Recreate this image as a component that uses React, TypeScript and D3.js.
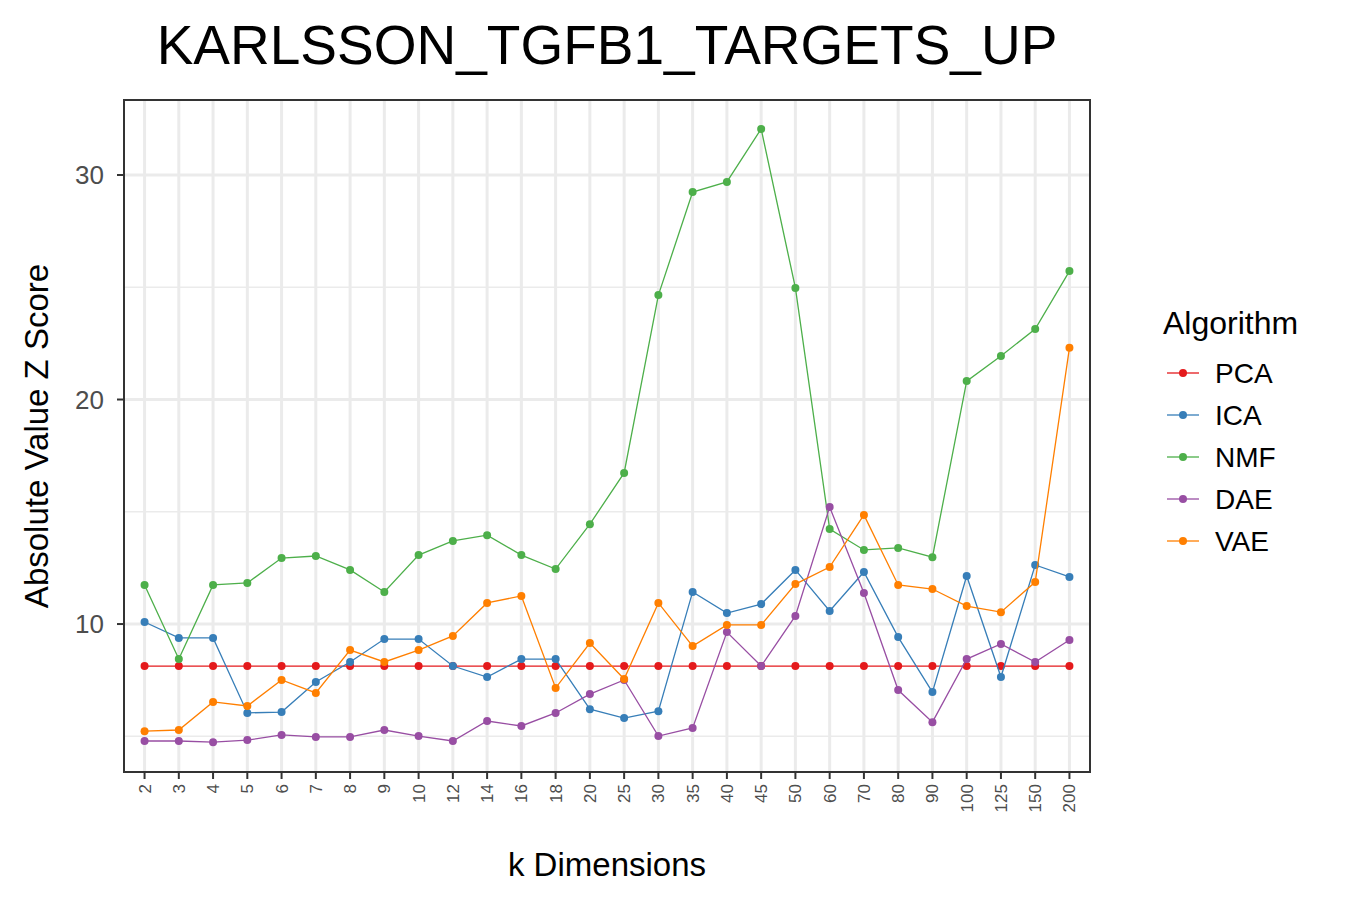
import React from 'react';
import * as d3 from 'd3';

const kDims = ['2','3','4','5','6','7','8','9','10','12','14','16','18','20','25','30','35','40','45','50','60','70','80','90','100','125','150','200'];
const pca = kDims.map(() => 8.13);
const ica = [10.09,9.38,9.38,6.04,6.08,7.42,8.31,9.33,9.33,8.13,7.64,8.44,8.44,6.21,5.81,6.12,11.43,10.49,10.89,12.41,10.58,12.32,9.42,6.97,12.14,7.64,12.63,12.1];
const nmf = [11.74,8.44,11.74,11.83,12.94,13.03,12.41,11.43,13.07,13.7,13.96,13.07,12.45,14.45,16.73,24.65,29.24,29.69,32.05,24.97,14.23,13.3,13.39,12.98,20.82,21.94,23.14,25.72];
const dae = [4.79,4.79,4.74,4.83,5.06,4.97,4.97,5.28,5.01,4.79,5.68,5.46,6.04,6.88,7.51,5.01,5.37,9.64,8.13,10.36,15.21,11.38,7.06,5.63,8.44,9.11,8.31,9.29];
const vae = [5.23,5.28,6.53,6.35,7.51,6.93,8.84,8.31,8.84,9.47,10.94,11.25,7.15,9.15,7.55,10.94,9.02,9.96,9.96,11.78,12.54,14.86,11.74,11.56,10.8,10.53,11.87,22.3];
const algorithms = ['PCA','ICA','NMF','DAE','VAE'];
const colors = ['#e41a1c','#377eb8','#4daf4a','#984ea3','#ff7f00'];
const seriesValues = [pca, ica, nmf, dae, vae];
const majorTicks = [10, 20, 30];
const minorTicks = [5, 15, 25];

export default function App() {
  const left = 124, right = 1090, top = 100, bottom = 772;
  const x = d3.scalePoint<string>().domain(kDims).range([left, right]).padding(0.6);
  const y = d3.scaleLinear().domain([3.41, 33.34]).range([bottom, top]);
  const line = d3.line<number>().x((d, i) => x(kDims[i])!).y(d => y(d));
  const font = 'Arial, "Liberation Sans", sans-serif';

  return (
    <svg width={1350} height={900} style={{ position: 'absolute', left: 0, top: 0 }} fontFamily={font}>
      <rect width={1350} height={900} fill="white" />
      {minorTicks.map(t => <line key={'mi' + t} x1={left} x2={right} y1={y(t)} y2={y(t)} stroke="#ebebeb" strokeWidth={1.5} />)}
      {majorTicks.map(t => <line key={'ma' + t} x1={left} x2={right} y1={y(t)} y2={y(t)} stroke="#ebebeb" strokeWidth={3} />)}
      {kDims.map(k => <line key={'v' + k} x1={x(k)} x2={x(k)} y1={top} y2={bottom} stroke="#ebebeb" strokeWidth={3} />)}
      {seriesValues.map((vals, si) => (
        <g key={algorithms[si]}>
          <path d={line(vals) || ''} fill="none" stroke={colors[si]} strokeWidth={1.3} />
          {vals.map((v, i) => <circle key={i} cx={x(kDims[i])} cy={y(v)} r={4} fill={colors[si]} />)}
        </g>
      ))}
      <rect x={left} y={top} width={right - left} height={bottom - top} fill="none" stroke="#333" strokeWidth={2} />
      {majorTicks.map(t => (
        <g key={'yt' + t}>
          <line x1={left - 7} x2={left} y1={y(t)} y2={y(t)} stroke="#333" strokeWidth={2} />
          <text x={left - 20} y={y(t)} dy="0.35em" textAnchor="end" fontSize={26} fill="#4d4d4d">{t}</text>
        </g>
      ))}
      {kDims.map(k => (
        <g key={'xt' + k}>
          <line x1={x(k)} x2={x(k)} y1={bottom} y2={bottom + 7} stroke="#333" strokeWidth={2} />
          <text transform={`translate(${x(k)! + 6},${bottom + 12}) rotate(-90)`} textAnchor="end" fontSize={17} fill="#4d4d4d">{k}</text>
        </g>
      ))}
      <text x={607} y={64} textAnchor="middle" fontSize={55}>KARLSSON_TGFB1_TARGETS_UP</text>
      <text x={607} y={876} textAnchor="middle" fontSize={33}>k Dimensions</text>
      <text transform={`translate(48,436) rotate(-90)`} textAnchor="middle" fontSize={33}>Absolute Value Z Score</text>
      <text x={1163} y={334} fontSize={32}>Algorithm</text>
      {algorithms.map((a, i) => (
        <g key={'lg' + a} transform={`translate(0,${373 + i * 42})`}>
          <line x1={1167} x2={1199} y1={0} y2={0} stroke={colors[i]} strokeWidth={1.3} />
          <circle cx={1183} cy={0} r={4} fill={colors[i]} />
          <text x={1215} y={0} dy="0.36em" fontSize={28}>{a}</text>
        </g>
      ))}
    </svg>
  );
}
